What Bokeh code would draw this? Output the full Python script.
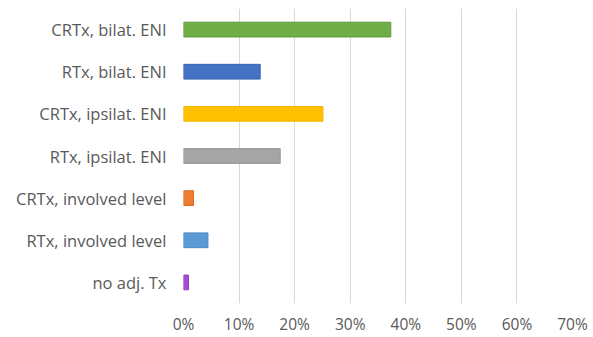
from bokeh.plotting import figure
from bokeh.models import ColumnDataSource, NumeralTickFormatter, FixedTicker
from bokeh.embed import file_html
from bokeh.resources import INLINE

categories = ["CRTx, bilat. ENI", "RTx, bilat. ENI", "CRTx, ipsilat. ENI", "RTx, ipsilat. ENI",
              "CRTx, involved level", "RTx, involved level", "no adj. Tx"]
values = [0.373, 0.138, 0.251, 0.174, 0.018, 0.044, 0.009]
colors = ["#70AD47", "#4472C4", "#FFC000", "#A5A5A5", "#ED7D31", "#5B9BD5", "#A64DD6"]
borders = ["#5E9A3A", "#3A63B0", "#F2B600", "#939393", "#D86C24", "#4D8AC4", "#9340C2"]
x_ticks = [0, 0.1, 0.2, 0.3, 0.4, 0.5, 0.6, 0.7]

src = ColumnDataSource(dict(cat=categories, val=values, color=colors, border=borders))

p = figure(width=593, height=337, y_range=list(reversed(categories)), x_range=(0, 0.7),
           output_backend="svg", toolbar_location=None,
           min_border_left=183, min_border_right=21, min_border_top=8, min_border_bottom=30)
p.hbar(y="cat", left=0, right="val", height=0.35, fill_color="color", line_color="border",
       line_width=1, source=src)

p.outline_line_color = None
p.background_fill_color = "white"
p.border_fill_color = "white"
p.ygrid.grid_line_color = None
p.xgrid.grid_line_color = "#D9D9D9"
p.xgrid.grid_line_width = 1
p.xaxis.ticker = FixedTicker(ticks=x_ticks)
p.xaxis.formatter = NumeralTickFormatter(format="0%")
for ax in (p.xaxis, p.yaxis):
    ax.axis_line_color = None
    ax.major_tick_line_color = None
    ax.minor_tick_line_color = None
    ax.major_tick_out = 0
    ax.major_tick_in = 0
    ax.minor_tick_out = 0
    ax.minor_tick_in = 0
    ax.major_label_text_color = "#595959"
    ax.major_label_text_font = "Open Sans"
p.xaxis.major_label_text_font_size = "15.5px"
p.yaxis.major_label_text_font_size = "16.5px"
p.xaxis.major_label_standoff = 9
p.yaxis.major_label_standoff = 17

open("out.html", "w").write(file_html(p, INLINE))
